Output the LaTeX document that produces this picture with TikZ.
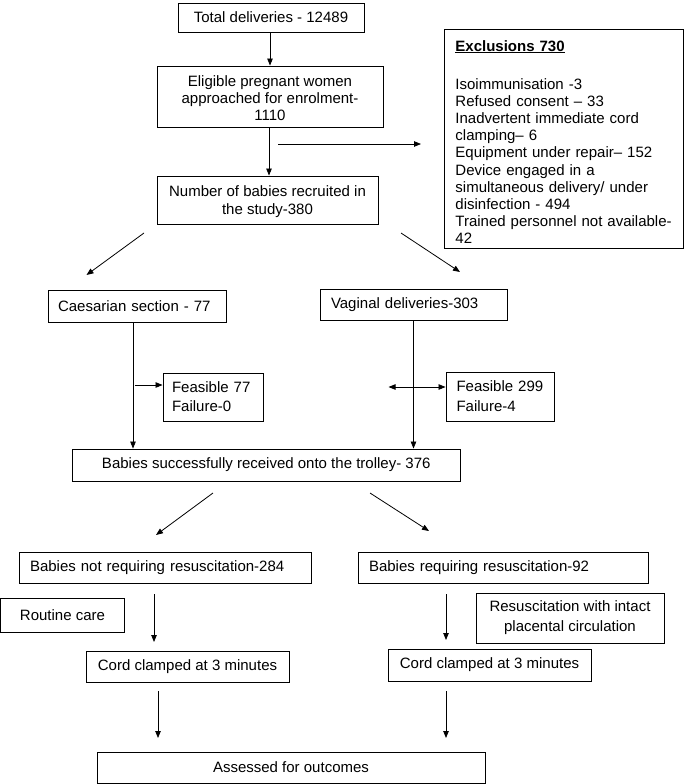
\documentclass[tikz,border=0pt]{standalone}
\usepackage{fontspec}
\setmainfont{Liberation Sans}
\usetikzlibrary{arrows.meta}
\begin{document}
\begin{tikzpicture}[x=1pt,y=-1pt,
  bx/.style={draw, line width=0.9pt, inner sep=0pt, font=\fontsize{15}{17.2}\selectfont},
  lbx/.style={bx, align=left},
  arr/.style={line width=0.8pt, -{Triangle[length=7pt,width=5.5pt]}},
  darr/.style={line width=0.8pt, {Triangle[length=7pt,width=5.5pt]}-{Triangle[length=7pt,width=5.5pt]}}]
\useasboundingbox (0,0) rectangle (685,784);
\fill[white] (0,0) rectangle (685,784);

\node[bx, minimum width=186pt, minimum height=29pt] (total) at (271,17.5) {Total deliveries - 12489};
\node[bx, minimum width=226pt, minimum height=61pt, align=center] (elig) at (270,96.5) {\rule{0pt}{14pt}Eligible pregnant women\\approached for enrolment-\\1110};
\node[bx, minimum width=221pt, minimum height=48pt, align=center] (recr) at (267.5,200) {\rule{0pt}{14pt}Number of babies recruited in\\the study-380};
\node[lbx, anchor=north west, text width=217pt, inner xsep=11pt, minimum height=219pt] (excl) at (444,29)
 {\rule{0pt}{17pt}\underline{\textbf{Exclusions 730}}\\[20.8pt]
  Isoimmunisation -3\\
  Refused consent – 33\\
  Inadvertent immediate cord\\
  clamping– 6\\
  Equipment under repair– 152\\
  Device engaged in a\\
  simultaneous delivery/ under\\
  disinfection - 494\\
  Trained personnel not available-\\
  42};

\node[lbx, text width=158pt, inner xsep=10pt, minimum height=32pt] (cs) at (137,306) {Caesarian section - 77};
\node[lbx, text width=165pt, inner xsep=11pt, minimum height=31pt] (vd) at (413.5,304.5) {Vaginal deliveries-303};
\node[lbx, text width=82pt, inner xsep=9pt, minimum height=48pt, font=\fontsize{15}{19}\selectfont] (f77) at (213,397) {Feasible 77\\Failure-0};
\node[lbx, text width=87pt, inner xsep=10.5pt, minimum height=49pt, font=\fontsize{15}{20}\selectfont] (f299) at (500,396.5) {Feasible 299\\Failure-4};

\node[bx, minimum width=387.5pt, minimum height=32pt] (recv) at (266.25,465) {Babies successfully received onto the trolley- 376};

\node[lbx, text width=270pt, inner xsep=11pt, minimum height=31pt] (nr) at (165,567.5) {Babies not requiring resuscitation-284};
\node[lbx, text width=268pt, inner xsep=11pt, minimum height=31pt] (rq) at (503,567.5) {Babies requiring resuscitation-92};

\node[bx, minimum width=124pt, minimum height=34pt] (rc) at (62.5,615) {Routine care};
\node[bx, minimum width=188pt, minimum height=50pt, align=center, font=\fontsize{15}{20}\selectfont] (res) at (570,618) {Resuscitation with intact\\placental circulation};

\node[bx, minimum width=203pt, minimum height=31pt] (cl) at (187.5,666.5) {Cord clamped at 3 minutes};
\node[bx, minimum width=203pt, minimum height=32pt] (cr) at (489.5,665) {Cord clamped at 3 minutes};

\node[bx, minimum width=388pt, minimum height=31pt] (ass) at (291,767.5) {Assessed for outcomes};

% connectors
\draw[arr] (total.south -| elig.north) -- (elig.north);
\draw[arr] ([xshift=-1pt]elig.south) -- ([xshift=-1pt]elig.south |- recr.north);

\coordinate (exA) at (278,144);
\coordinate (exB) at (421,144);
\draw[arr] (exA) -- (exB);

\coordinate (d1a) at (144,233); \coordinate (d1b) at (86.5,275);
\coordinate (d2a) at (401,233); \coordinate (d2b) at (460,272);
\draw[arr] (d1a) -- (d1b);
\draw[arr] (d2a) -- (d2b);

\draw[arr] ([xshift=-4pt]cs.south) -- ([xshift=-4pt]cs.south |- recv.north);
\draw[arr] ([shift={(-28pt,12pt)}]f77.west) -- ([yshift=12pt]f77.west);
\draw[arr] (vd.south) -- (vd.south |- recv.north);
\draw[darr] ([shift={(-57pt,9.5pt)}]f299.west) -- ([yshift=9.5pt]f299.west);

\coordinate (d3a) at (213,493); \coordinate (d3b) at (156,535);
\coordinate (d4a) at (370,493); \coordinate (d4b) at (429,531);
\draw[arr] (d3a) -- (d3b);
\draw[arr] (d4a) -- (d4b);

\coordinate (v1a) at (154,594); \coordinate (v1b) at (154,642);
\coordinate (v2a) at (446,594); \coordinate (v2b) at (446,640);
\draw[arr] (v1a) -- (v1b);
\draw[arr] (v2a) -- (v2b);

\coordinate (v3a) at (158,691); \coordinate (v3b) at (158,738);
\coordinate (v4a) at (446,691); \coordinate (v4b) at (446,738);
\draw[arr] (v3a) -- (v3b);
\draw[arr] (v4a) -- (v4b);
\end{tikzpicture}
\end{document}
